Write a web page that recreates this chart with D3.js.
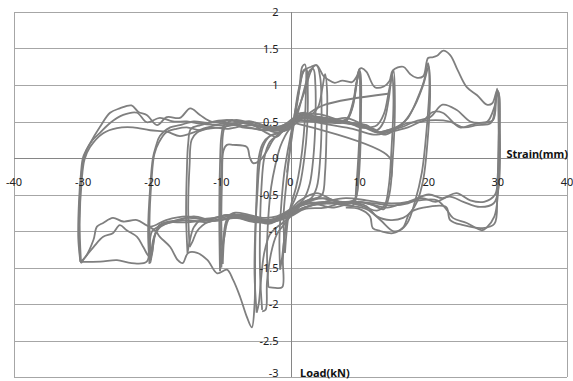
<!DOCTYPE html>
<html lang="en">
<head>
<meta charset="UTF-8">
<title>Load - Strain</title>
<script src="https://d3js.org/d3.v7.min.js"></script>
<style>
body{ margin:0; background:#fff; }
svg{ display:block; }
.grid line{ stroke:#a6a6a6; stroke-width:1; }
.axis line{ stroke:#868686; stroke-width:1; }
text{ font-family:"Noto Sans", "DejaVu Sans", sans-serif; font-size:11px; fill:#222; }
.title{ font-weight:bold; fill:#111; }
.loop{ fill:none; stroke:#7f7f7f; stroke-width:1.8; stroke-linejoin:round; }
</style>
</head>
<body>
<svg id="chart" width="573" height="381"></svg>
<script>
// tick values
const xTicks = [-40,-30,-20,-10,0,10,20,30,40];
const yTicks = [-3,-2.5,-2,-1.5,-1,-0.5,0,0.5,1,1.5,2];

// recorded loops, [strain mm, load kN]
const loop30a = [[-30.4,-1.42],[-30.7,-1.1],[-30.6,-0.6],[-30.3,-0.2],[-30,0.01],[-29,0.2],[-27.6,0.42],[-26.1,0.62],[-24.7,0.68],[-23,0.72],[-22,0.63],[-20.8,0.59],[-19.3,0.45],[-17.9,0.56],[-16,0.55],[-14.5,0.68],[-13.1,0.59],[-11.2,0.49],[-8.3,0.52],[-5.4,0.45],[-3.4,0.34],[-2,0.29],[-1,0.38],[0,0.45],[1.5,0.58],[4,0.6],[7,0.52],[10,0.45],[12.5,0.35],[14,0.38],[16,0.42],[18,0.5],[20.2,0.56],[22,0.73],[24,0.66],[26,0.5],[27.4,0.48],[29.3,0.52],[29.8,0.85],[30.1,0.9],[30.3,0.4],[30.1,-0.4],[29.4,-0.62],[27.4,-0.67],[25,-0.6],[23,-0.53],[21,-0.6],[19,-0.55],[17,-0.62],[15,-0.65],[12,-0.62],[9,-0.6],[6,-0.62],[3,-0.65],[0,-0.75],[-3,-0.85],[-6,-0.85],[-9,-0.78],[-12,-0.85],[-15,-0.8],[-18,-0.85],[-20.3,-0.94],[-22.2,-0.85],[-24.2,-0.87],[-25.7,-0.82],[-27.1,-0.89],[-28,-0.94],[-28.5,-1.12],[-29.7,-1.36],[-30.4,-1.42]];
const loop30b = [[-30.4,-1.42],[-30.6,-1.0],[-30.4,-0.4],[-30,-0.05],[-29.5,0.11],[-28.6,0.25],[-27.6,0.34],[-26.1,0.48],[-24.2,0.59],[-22.2,0.62],[-20.8,0.49],[-18.9,0.55],[-17,0.5],[-15,0.5],[-13,0.47],[-10,0.45],[-7,0.48],[-4,0.42],[-2,0.35],[0,0.42],[2,0.55],[5,0.55],[8,0.48],[11,0.42],[13,0.35],[15,0.4],[17,0.48],[19,0.5],[20.6,0.63],[22,0.62],[24.5,0.42],[26,0.45],[27.4,0.48],[28.5,0.5],[29.5,0.7],[30,0.92],[30.2,0.3],[30,-0.5],[29.5,-0.8],[28.4,-0.95],[27.7,-0.99],[25.5,-0.89],[23.5,-0.82],[22.6,-0.71],[21.2,-0.58],[18.7,-0.58],[16.3,-0.62],[14,-0.68],[11,-0.62],[8,-0.6],[5,-0.68],[2,-0.7],[0,-0.8],[-3,-0.88],[-7,-0.82],[-11,-0.85],[-15,-0.88],[-19,-0.92],[-20.3,-1.36],[-21.3,-1.22],[-22.2,-1.08],[-23.7,-0.99],[-24.7,-0.92],[-25.7,-1.03],[-27.1,-1.08],[-28.5,-1.22],[-29.7,-1.36],[-30.3,-1.44]];
const loop30c = [[-30.3,-1.44],[-30.5,-0.9],[-30.2,-0.3],[-29.8,-0.02],[-29,0.15],[-27.1,0.34],[-25.1,0.41],[-22.8,0.42],[-20.3,0.38],[-17.9,0.36],[-16,0.3],[-14,0.35],[-12,0.42],[-9,0.4],[-6,0.45],[-3,0.4],[-1,0.42],[0.5,0.5],[3,0.5],[6,0.45],[9,0.4],[12,0.32],[14.5,0.36],[17,0.42],[19,0.5],[21,0.52],[23,0.5],[25,0.42],[27,0.45],[29,0.48],[29.7,0.8],[29.9,0.95],[30.1,0.5],[30,-0.2],[29.6,-0.5],[28,-0.6],[26,-0.58],[24,-0.48],[22,-0.55],[20,-0.5],[17,-0.6],[14,-0.62],[11,-0.58],[8,-0.55],[5,-0.6],[2,-0.68],[0,-0.78],[-3,-0.86],[-6,-0.8],[-9,-0.8],[-12,-0.88],[-15,-0.85],[-18,-0.9],[-20,-1.0],[-20.8,-1.42],[-23,-1.44],[-25.1,-1.4],[-27.5,-1.42],[-30.2,-1.42]];
const envelope = [[-0.5,-0.2],[0,0.2],[0.6,0.6],[1.2,0.95],[2,1.2],[3,1.25],[3.8,1.27],[4.8,1.12],[5.5,1.07],[6.4,1.03],[7.5,1.06],[8.9,1.04],[9.6,1.12],[10,1.22],[10.3,1.23],[11,1.18],[12.2,0.97],[13.5,0.98],[14.3,1.05],[14.8,1.2],[16.3,1.25],[17.3,1.15],[18.2,1.1],[19.2,1.12],[19.9,1.37],[20.5,1.38],[21.2,1.4],[22.1,1.47],[23.1,1.41],[24.2,1.2],[25.5,0.97],[27,0.86],[28.4,0.73],[29.2,0.75],[29.9,0.93],[30.2,0.85],[30.1,0.2],[29.9,-0.5],[29.5,-0.9],[27.8,-0.96],[25,-0.92],[23.1,-0.85],[22.5,-0.67],[19.2,-0.68],[17.3,-0.75],[16.3,-0.95],[14.8,-1.03],[13,-1.0],[11.9,-0.96],[11.5,-0.8],[10,-0.7],[8,-0.68]];
const loop20a = [[-20.4,-1.45],[-20.6,-1.0],[-20.3,-0.4],[-19.9,0],[-19.5,0.15],[-18.9,0.3],[-17.4,0.42],[-16,0.45],[-14,0.5],[-12,0.48],[-10,0.5],[-8,0.45],[-6,0.5],[-4,0.45],[-2,0.38],[0,0.45],[1.5,0.6],[3,0.58],[5,0.55],[7,0.52],[9,0.48],[11,0.45],[12.5,0.35],[14,0.38],[15.8,0.45],[17,0.55],[18.3,0.8],[19.3,1.05],[19.9,1.3],[20.1,1.0],[19.7,0.4],[19,-0.2],[18,-0.6],[16.9,-0.89],[15.8,-0.99],[14.8,-1.0],[13,-0.85],[11,-0.7],[8,-0.65],[5,-0.62],[2,-0.68],[0,-0.78],[-3,-0.88],[-6,-0.82],[-9,-0.78],[-12,-0.84],[-15,-0.82],[-17.4,-0.88],[-18.9,-0.95],[-19.8,-1.1],[-20.2,-1.4]];
const loop20b = [[-20.2,-1.42],[-20.4,-0.9],[-20.1,-0.3],[-19.7,0.05],[-19,0.22],[-18,0.35],[-16.5,0.4],[-15,0.42],[-13,0.38],[-11,0.45],[-9,0.48],[-7,0.42],[-5,0.4],[-3,0.38],[-1,0.4],[0.5,0.5],[2,0.55],[4,0.52],[6,0.5],[8,0.5],[10,0.42],[12,0.4],[13.5,0.32],[15,0.38],[16.5,0.5],[18,0.72],[19.2,1.0],[20,1.25],[20.2,0.9],[19.8,0.2],[19.2,-0.3],[18.3,-0.6],[17.3,-0.75],[16.3,-0.82],[14.5,-0.85],[12.5,-0.8],[11,-0.66],[9,-0.62],[6,-0.68],[3,-0.62],[0,-0.72],[-2,-0.85],[-5,-0.88],[-8,-0.82],[-11,-0.86],[-14,-0.8],[-16,-0.85],[-18.5,-0.9],[-19.6,-1.05],[-20,-1.3],[-20.3,-1.44]];
const dipPath = [[-20.3,-0.95],[-19.5,-1.0],[-18.9,-1.08],[-17.4,-1.22],[-16.3,-1.4],[-15.6,-1.44],[-14.8,-1.3],[-13.5,-1.3],[-12,-1.4],[-10.6,-1.58],[-9.2,-1.53],[-8.3,-1.67],[-7.3,-1.9],[-6.3,-2.18],[-5.6,-2.32],[-5.2,-2.0],[-5.1,-1.2],[-4.9,-0.5],[-4.6,0],[-4,0.2],[-3,0.3],[-1.5,0.35],[0,0.4]];
const loop15a = [[-14.9,-1.3],[-15.1,-0.8],[-15,-0.2],[-14.8,0.2],[-14.4,0.4],[-13,0.45],[-11,0.5],[-9,0.52],[-7,0.48],[-5,0.45],[-3,0.42],[-1,0.45],[0.5,0.55],[2,0.6],[4,0.55],[6,0.52],[8,0.55],[10,0.48],[11.5,0.4],[12.5,0.38],[13.5,0.5],[14.2,0.8],[14.7,1.15],[14.9,0.8],[14.6,0.1],[14.2,-0.4],[13.6,-0.65],[12.5,-0.72],[11,-0.68],[9,-0.62],[7,-0.6],[5,-0.55],[3,-0.58],[1,-0.65],[-1,-0.8],[-3,-0.85],[-5,-0.82],[-7,-0.78],[-9,-0.78],[-11,-0.82],[-13,-0.85],[-14,-0.95],[-14.6,-1.15],[-14.9,-1.3]];
const loop15b = [[-14.6,-1.22],[-14.8,-0.7],[-14.6,-0.1],[-14.3,0.25],[-13.5,0.35],[-12,0.4],[-10,0.42],[-8,0.45],[-6,0.42],[-4,0.38],[-2,0.4],[0,0.48],[1.5,0.55],[3.5,0.52],[5.5,0.5],[7.5,0.48],[9.5,0.45],[11,0.42],[12.5,0.45],[13.5,0.6],[14.3,0.95],[14.9,1.2],[15.1,0.7],[14.8,0],[14.3,-0.5],[13.5,-0.7],[12,-0.65],[10,-0.6],[8,-0.62],[6,-0.58],[4,-0.62],[2,-0.6],[0,-0.72],[-2,-0.82],[-4,-0.88],[-6,-0.85],[-8,-0.8],[-10,-0.85],[-12,-0.88],[-13.5,-1.0],[-14.2,-1.15],[-14.6,-1.22]];
const loop10a = [[-10,-1.5],[-10.2,-1.0],[-10.1,-0.4],[-9.9,0],[-9.8,0.3],[-9.5,0.42],[-8,0.48],[-6,0.5],[-4,0.45],[-2,0.42],[0,0.5],[1.5,0.58],[3,0.55],[5,0.52],[7,0.5],[8.3,0.55],[9.2,0.8],[9.7,1.1],[10,1.22],[10.1,0.7],[9.8,0],[9.5,-0.4],[9.2,-0.6],[8,-0.62],[6,-0.58],[4,-0.55],[2,-0.6],[0,-0.72],[-2,-0.85],[-4,-0.85],[-6,-0.8],[-8,-0.78],[-9.2,-0.85],[-9.7,-1.1],[-10,-1.5]];
const loop10b = [[-9.8,-1.45],[-10,-0.9],[-9.9,-0.3],[-9.7,0.1],[-9.2,0.18],[-8.3,0.18],[-6.3,0.15],[-5.9,0.01],[-5.4,-0.07],[-4.4,-0.03],[-3.4,0.1],[-2.5,0.25],[-1.5,0.35],[-0.5,0.42],[0.5,0.5],[2,0.52],[4,0.5],[6,0.48],[8,0.5],[9,0.7],[9.5,1.0],[9.9,1.2],[10.1,0.5],[9.8,-0.2],[9.4,-0.55],[8.5,-0.6],[6.2,-0.58],[3.8,-0.48],[1.4,-0.58],[0,-0.7],[-2,-0.8],[-4,-0.82],[-6,-0.78],[-8,-0.75],[-9,-0.8],[-9.5,-1.0],[-9.8,-1.45]];
const loop10c = [[-10.2,-1.55],[-10.3,-0.8],[-10.2,-0.1],[-10,0.3],[-9.6,0.45],[-8,0.52],[-6,0.48],[-4,0.42],[-2,0.38],[0,0.46],[2,0.58],[4,0.55],[6,0.52],[8,0.52],[9,0.75],[9.6,1.05],[10.1,1.18],[10.2,0.6],[10,-0.1],[9.6,-0.5],[9,-0.65],[7,-0.62],[5,-0.6],[3,-0.62],[1,-0.66],[-1,-0.8],[-3,-0.9],[-5,-0.86],[-7,-0.8],[-8.8,-0.82],[-9.6,-1.1],[-10.2,-1.55]];
const loop5a = [[-4.9,-2.12],[-5.2,-1.6],[-5.1,-1.0],[-4.8,-0.5],[-4.5,-0.1],[-4,0.15],[-3,0.3],[-1.5,0.35],[-0.5,0.4],[0.3,0.5],[1,0.6],[2,0.62],[3,0.6],[4,0.7],[4.6,0.95],[5,1.15],[5.3,0.9],[5.2,0.3],[5,-0.2],[4.6,-0.5],[3.8,-0.55],[2.5,-0.6],[1.2,-0.65],[0,-0.78],[-1,-0.88],[-2,-0.95],[-3,-1.05],[-3.8,-1.3],[-4.3,-1.7],[-4.6,-2.0],[-4.9,-2.12]];
const loop5b = [[-4.1,-2.08],[-4.4,-1.6],[-4.4,-0.9],[-4.2,-0.4],[-3.8,0],[-3,0.22],[-2,0.3],[-1,0.38],[0,0.45],[1,0.65],[2,0.9],[2.8,1.15],[3.3,1.25],[3.8,1.27],[4.3,1.1],[4.5,0.6],[4.3,0],[3.8,-0.4],[3,-0.55],[2,-0.6],[1,-0.7],[0,-0.8],[-1,-0.92],[-2,-1.05],[-2.8,-1.3],[-3.4,-1.7],[-3.6,-2.08],[-4.1,-2.1]];
const loop5c = [[-3.2,-1.77],[-3.4,-1.3],[-3.2,-0.8],[-2.8,-0.4],[-2.2,-0.1],[-1.5,0.15],[-0.8,0.3],[0,0.42],[0.8,0.55],[1.6,0.8],[2.3,1.05],[2.8,1.2],[3.3,1.22],[3.6,1.0],[3.6,0.5],[3.3,0],[2.8,-0.35],[2,-0.55],[1,-0.65],[0,-0.75],[-0.5,-0.85],[-0.9,-1.1],[-1.1,-1.4],[-1.2,-1.77],[-2.2,-1.78],[-3.2,-1.77]];
const loop2a = [[-1.5,-1.53],[-1.6,-1.1],[-1.3,-0.6],[-0.9,-0.2],[-0.4,0.1],[0.2,0.4],[0.8,0.7],[1.4,1.0],[1.9,1.2],[2.3,1.22],[2.5,0.9],[2.4,0.4],[2,0],[1.4,-0.35],[0.7,-0.55],[0,-0.7],[-0.5,-0.85],[-0.9,-1.1],[-1.2,-1.35],[-1.5,-1.53]];
const loop2b = [[-0.8,-1.3],[-1,-0.8],[-0.6,-0.35],[-0.2,0],[0.3,0.35],[0.8,0.65],[1.3,0.95],[1.7,1.25],[2.1,1.28],[2.2,0.8],[1.9,0.3],[1.4,-0.1],[0.8,-0.4],[0.2,-0.6],[-0.3,-0.8],[-0.6,-1.05],[-0.8,-1.3]];
const jump1 = [[2.5,0.6],[5,0.73],[14.1,0.88]];
const jump2 = [[0.5,0.48],[14.3,0.01],[14.5,-0.3]];

const series = [loop30a,loop30b,loop30c,envelope,loop20a,loop20b,dipPath,loop15a,loop15b,
    loop10a,loop10b,loop10c,loop5a,loop5b,loop5c,loop2a,loop2b,jump1,jump2];

const svg = d3.select('#chart');
const plotLeft = 14, plotRight = 567, plotTop = 12, plotBottom = 377;

const x = d3.scaleLinear().domain([-40,40]).range([plotLeft,plotRight]);
const y = d3.scaleLinear().domain([-3,2]).range([plotBottom,plotTop]);

// horizontal gridlines + frame
const grid = svg.append('g').attr('class','grid');
grid.selectAll('line.h')
    .data(yTicks)
    .join('line')
    .attr('class','h')
    .attr('x1',plotLeft).attr('x2',plotRight)
    .attr('y1',d=>Math.round(y(d))+0.5).attr('y2',d=>Math.round(y(d))+0.5);
grid.selectAll('line.v')
    .data([plotLeft,plotRight])
    .join('line')
    .attr('class','v')
    .attr('x1',d=>d+0.5).attr('x2',d=>d+0.5)
    .attr('y1',plotTop).attr('y2',plotBottom);

// axes through the origin
const axes = svg.append('g').attr('class','axis');
axes.append('line')
    .attr('x1',plotLeft).attr('x2',plotRight)
    .attr('y1',Math.round(y(0))+0.5).attr('y2',Math.round(y(0))+0.5);
axes.append('line')
    .attr('x1',Math.round(x(0))+0.5).attr('x2',Math.round(x(0))+0.5)
    .attr('y1',plotTop).attr('y2',plotBottom);

// loops
const line = d3.line()
    .x(d=>x(d[0]))
    .y(d=>y(d[1]))
    .curve(d3.curveCatmullRom.alpha(0.5));

svg.append('g').selectAll('path')
    .data(series)
    .join('path')
    .attr('class','loop')
    .attr('d',line);

// tick labels
svg.append('g').selectAll('text')
    .data(xTicks)
    .join('text')
    .attr('x',d=>x(d))
    .attr('y',y(0)+28)
    .attr('text-anchor','middle')
    .text(d=>d);

// the bottom label sits on the edge in the original, keep it just inside
svg.append('g').selectAll('text')
    .data(yTicks)
    .join('text')
    .attr('x',x(0)-12)
    .attr('y',d=>Math.min(y(d)+4,377))
    .attr('text-anchor','end')
    .text(d=>d);

svg.append('text').attr('class','title')
    .attr('x',568).attr('y',y(0)+0)
    .attr('text-anchor','end')
    .text('Strain(mm)');

svg.append('text').attr('class','title')
    .attr('x',300).attr('y',377)
    .text('Load(kN)');
</script>
</body>
</html>
